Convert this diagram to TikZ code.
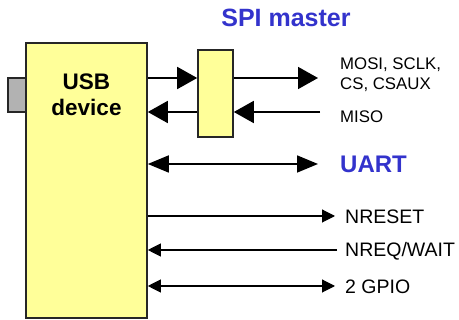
\documentclass[tikz,border=0pt]{standalone}
\usepackage{fontspec}
\setmainfont{Liberation Sans}
\usetikzlibrary{arrows.meta}
\definecolor{boxyellow}{HTML}{FFFF99}
\definecolor{titleblue}{HTML}{3333CC}
\tikzset{
    block/.style={draw=black!85, line width=1.6pt, fill=boxyellow, inner sep=0pt},
    bigbus/.style={line width=1.7pt, -{Triangle[length=20pt,width=22pt]}},
    bigboth/.style={line width=1.7pt, {Triangle[length=21pt,width=17pt]}-{Triangle[length=21pt,width=17pt]}},
    sig/.style={line width=1.1pt, -{Triangle[length=13pt,width=13pt]}},
    sigboth/.style={line width=1.1pt, {Triangle[length=13pt,width=13pt]}-{Triangle[length=13pt,width=13pt]}},
    sigtext/.style={anchor=west, inner sep=0pt, font=\fontsize{19.5}{21}\selectfont},
    spitext/.style={anchor=west, inner sep=0pt, font=\fontsize{16.8}{20}\selectfont, align=left}
}
\begin{document}
\begin{tikzpicture}[x=1pt, y=-1pt]
        \useasboundingbox (0,0) rectangle (459,320);
        % USB device
        \node[draw=black!85, line width=1.6pt, fill=black!30, minimum width=18pt, minimum height=34pt, inner sep=0pt] (plug) at (17,95) {};
        \node[block, minimum width=121pt, minimum height=275pt] (usb) at (86.5,180.5) {};
        \node[align=center, font=\bfseries\fontsize{22.5}{26}\selectfont] (usbtxt) at (86.5,95) {USB\\device};
        
        % SPI master
        \node[block, minimum width=35pt, minimum height=87pt] (spi) at (215.5,93.5) {};
        \node[text=titleblue, font=\bfseries\fontsize{25}{28}\selectfont] (spititle) at (286,18) {SPI master};
        \node[spitext] (mosi) at (340,75) {MOSI, SCLK,\\CS, CSAUX};
        \node[spitext] (miso) at (340,117) {MISO};
        \coordinate (mosiend) at (318,78);
        \coordinate (misoend) at (320,112);
        \draw[bigbus] (usb.east |- mosiend) -- (spi.west |- mosiend);
        \draw[bigbus] (spi.east |- mosiend) -- (mosiend);
        \draw[bigbus] (misoend) -- (spi.east |- misoend);
        \draw[bigbus] (spi.west |- misoend) -- (usb.east |- misoend);
        
        % UART
        \node[anchor=west, inner sep=0pt, text=titleblue, font=\bfseries\fontsize{24}{28}\selectfont] (uart) at (340,164) {UART};
        \coordinate (uartend) at (318,164);
        \draw[bigboth] (usb.east |- uartend) -- (uartend);
        
        % other signals
        \node[sigtext] (nreset) at (345,217) {NRESET};
        \node[sigtext] (nreq) at (345,251) {NREQ/WAIT};
        \node[sigtext] (gpio) at (345,287) {2 GPIO};
        \coordinate (nresetend) at (335,216);
        \coordinate (nreqend) at (337,250);
        \coordinate (gpioend) at (335,286);
        \draw[sig] (usb.east |- nresetend) -- (nresetend);
        \draw[sig] (nreqend) -- (usb.east |- nreqend);
        \draw[sigboth] (usb.east |- gpioend) -- (gpioend);
    \end{tikzpicture}
\end{document}
